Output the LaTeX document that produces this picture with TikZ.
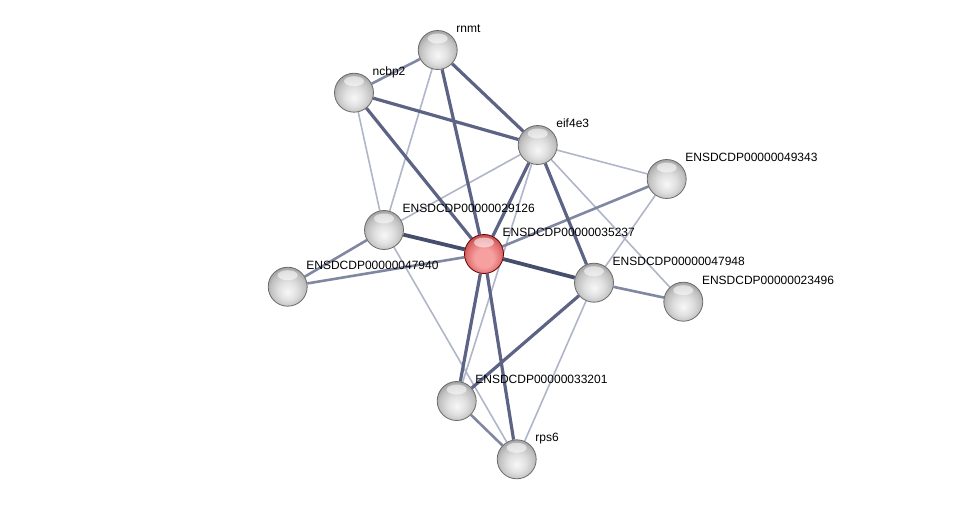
\documentclass[tikz,border=0pt]{standalone}
\usepackage{fontspec}
\setmainfont{Liberation Sans}
\usetikzlibrary{positioning,backgrounds}

\definecolor{edgeweak}{RGB}{176,181,201}
\definecolor{edgemid}{RGB}{128,135,163}
\definecolor{edgestrong}{RGB}{92,99,133}
\definecolor{edgetop}{RGB}{70,78,110}
\definecolor{redlight}{RGB}{246,160,160}
\definecolor{redmid}{RGB}{226,112,112}
\definecolor{reddark}{RGB}{185,70,70}

\pgfdeclareradialshading{glassgray}{\pgfqpoint{0bp}{-7bp}}{%
  color(0bp)=(white!97!black); color(12bp)=(white!88!black); color(22bp)=(white!76!black);
  color(30bp)=(white!60!black); color(50bp)=(white!60!black)}
\pgfdeclareradialshading{glassred}{\pgfqpoint{0bp}{-7bp}}{%
  color(0bp)=(redlight); color(12bp)=(redlight); color(22bp)=(redmid);
  color(30bp)=(reddark); color(50bp)=(reddark)}

\tikzset{
  prot/.style={circle, minimum size=39pt, inner sep=0pt, draw=black!58, line width=0.8pt,
    shading=glassgray,
    path picture={\fill[white, opacity=0.55] ([yshift=-8pt]path picture bounding box.north) ellipse (10pt and 5pt);}},
  seed/.style={prot, shading=glassred, draw=red!40!black},
  lbl/.style={inner sep=0pt, font=\fontsize{12pt}{14pt}\selectfont},
  weak/.style={draw=edgeweak, line width=1.6pt},
  mid/.style={draw=edgemid, line width=2.6pt},
  strong/.style={draw=edgestrong, line width=3.2pt},
  top/.style={draw=edgetop, line width=3.8pt}
}

\begin{document}
\begin{tikzpicture}[x=1pt, y=-1pt]
\useasboundingbox (0,0) rectangle (976,505);
    \node[prot] (rnmt) at (437.7,50) {};
    \node[prot] (ncbp) at (354,92.7) {};
    \node[prot] (eif) at (537.7,145) {};
    \node[prot] (p49343) at (666.7,179) {};
    \node[prot] (p29126) at (384,230) {};
    \node[seed] (p35237) at (484,254) {};
    \node[prot] (p47940) at (287.7,286.7) {};
    \node[prot] (p47948) at (594,282.7) {};
    \node[prot] (p23496) at (683.3,301.7) {};
    \node[prot] (p33201) at (456.7,401) {};
    \node[prot] (rps6) at (516.7,459.3) {};

    \node[lbl, above right=17.5pt and 18.5pt of rnmt.center, anchor=base west] (rnmt-l) {rnmt};
    \node[lbl, above right=17.5pt and 18.5pt of ncbp.center, anchor=base west] (ncbp-l) {ncbp2};
    \node[lbl, above right=17.5pt and 18.5pt of eif.center, anchor=base west] (eif-l) {eif4e3};
    \node[lbl, above right=17.5pt and 18.5pt of p49343.center, anchor=base west] (p49343-l) {ENSDCDP00000049343};
    \node[lbl, above right=17.5pt and 18.5pt of p29126.center, anchor=base west] (p29126-l) {ENSDCDP00000029126};
    \node[lbl, above right=17.5pt and 18.5pt of p35237.center, anchor=base west] (p35237-l) {ENSDCDP00000035237};
    \node[lbl, above right=17.5pt and 18.5pt of p47940.center, anchor=base west] (p47940-l) {ENSDCDP00000047940};
    \node[lbl, above right=17.5pt and 18.5pt of p47948.center, anchor=base west] (p47948-l) {ENSDCDP00000047948};
    \node[lbl, above right=17.5pt and 18.5pt of p23496.center, anchor=base west] (p23496-l) {ENSDCDP00000023496};
    \node[lbl, above right=17.5pt and 18.5pt of p33201.center, anchor=base west] (p33201-l) {ENSDCDP00000033201};
    \node[lbl, above right=17.5pt and 18.5pt of rps6.center, anchor=base west] (rps6-l) {rps6};

    \begin{scope}[on background layer]
    \draw[weak] (rnmt)--(p29126) (ncbp)--(p29126) (eif)--(p29126) (eif)--(p33201)
      (eif)--(p49343) (eif)--(p23496) (p49343)--(p47948) (p47948)--(rps6) (p29126)--(rps6);
    \draw[mid] (rnmt)--(ncbp) (p35237)--(p47940) (p29126)--(p47940) (p35237)--(p49343)
      (p33201)--(rps6) (p47948)--(p23496);
    \draw[strong] (rnmt)--(eif) (rnmt)--(p35237) (ncbp)--(eif) (ncbp)--(p35237)
      (eif)--(p35237) (eif)--(p47948) (p47948)--(p33201) (p35237)--(p33201) (p35237)--(rps6);
    \draw[top] (p35237)--(p29126) (p35237)--(p47948);
    \end{scope}
\end{tikzpicture}
\end{document}
